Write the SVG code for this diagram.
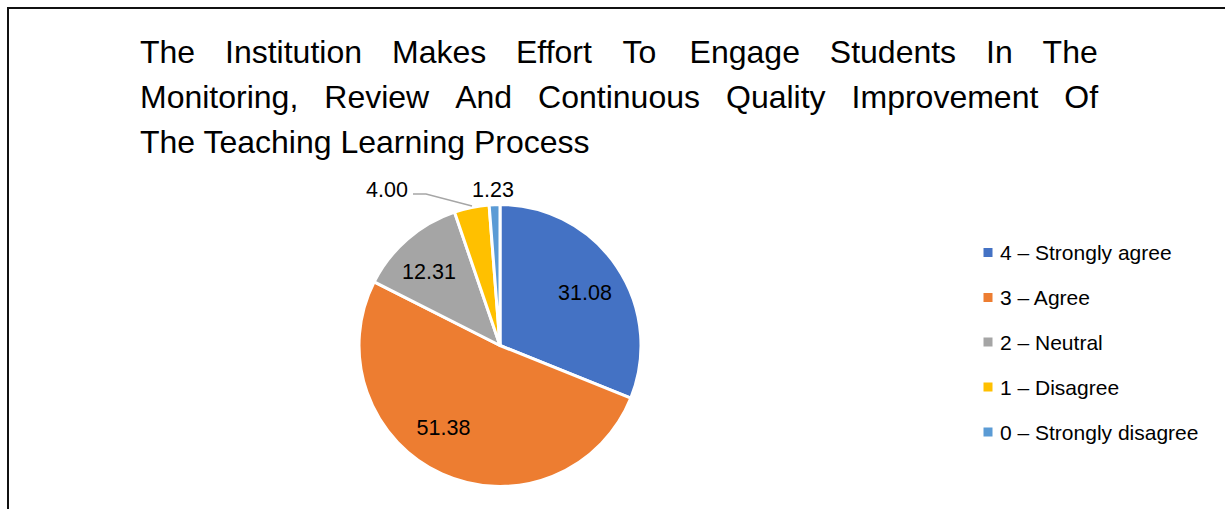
<svg xmlns="http://www.w3.org/2000/svg" width="1225" height="509" viewBox="0 0 1225 509">
<style>
text{font-family:"Liberation Sans",Arial,sans-serif;fill:#000}
.t{font-size:32px}
.lbl{font-size:21.5px;text-anchor:middle}
.leg{font-size:21px}
.sl{stroke:#fff;stroke-width:3;stroke-linejoin:round}
</style>
<rect width="1225" height="509" fill="#fff"/>
<path d="M8 520 V8 H1240" fill="none" stroke="#111" stroke-width="2"/>
<g id="title" class="t">
<text y="63"><tspan x="140">The</tspan><tspan x="225">Institution</tspan><tspan x="392">Makes</tspan><tspan x="516">Effort</tspan><tspan x="622.4">To</tspan><tspan x="689.6">Engage</tspan><tspan x="829.8">Students</tspan><tspan x="986">In</tspan><tspan x="1042.6">The</tspan></text>
<text y="108"><tspan x="140">Monitoring,</tspan><tspan x="324.3">Review</tspan><tspan x="455.2">And</tspan><tspan x="538.1">Continuous</tspan><tspan x="726">Quality</tspan><tspan x="851.6">Improvement</tspan><tspan x="1064.3">Of</tspan></text>
<text x="140" y="153">The Teaching Learning Process</text>
</g>
<g id="pie">
<path id="s4" class="sl" fill="#4472C4" d="M500 345.5 L500 204.5 A141 141 0 0 1 630.83 398.07 Z"/>
<path id="s3" class="sl" fill="#ED7D31" d="M500 345.5 L630.83 398.07 A141 141 0 1 1 374.2 281.8 Z"/>
<path id="s2" class="sl" fill="#A5A5A5" d="M500 345.5 L374.2 281.8 A141 141 0 0 1 454.5 212.04 Z"/>
<path id="s1" class="sl" fill="#FFC000" d="M500 345.5 L454.5 212.04 A141 141 0 0 1 489.11 204.92 Z"/>
<path id="s0" class="sl" fill="#5B9BD5" d="M500 345.5 L489.11 204.92 A141 141 0 0 1 500 204.5 Z"/>
</g>
<g id="connectors">
<polyline points="413,194 426,194 472,206" fill="none" stroke="#A6A6A6" stroke-width="1.3"/>
</g>
<g id="labels" class="lbl">
<text x="585" y="300">31.08</text>
<text x="443.5" y="435">51.38</text>
<text x="429" y="279">12.31</text>
<text x="387" y="197">4.00</text>
<text x="493" y="197">1.23</text>
</g>
<g id="legend" class="leg">
<g id="leg4"><rect x="983.5" y="248" width="9" height="9" fill="#4472C4"/><text x="1000" y="260">4 – Strongly agree</text></g>
<g id="leg3"><rect x="983.5" y="293" width="9" height="9" fill="#ED7D31"/><text x="1000" y="305">3 – Agree</text></g>
<g id="leg2"><rect x="983.5" y="337.5" width="9" height="9" fill="#A5A5A5"/><text x="1000" y="349.5">2 – Neutral</text></g>
<g id="leg1"><rect x="983.5" y="382.5" width="9" height="9" fill="#FFC000"/><text x="1000" y="394.5">1 – Disagree</text></g>
<g id="leg0"><rect x="983.5" y="427.5" width="9" height="9" fill="#5B9BD5"/><text x="1000" y="439.5">0 – Strongly disagree</text></g>
</g>
</svg>
